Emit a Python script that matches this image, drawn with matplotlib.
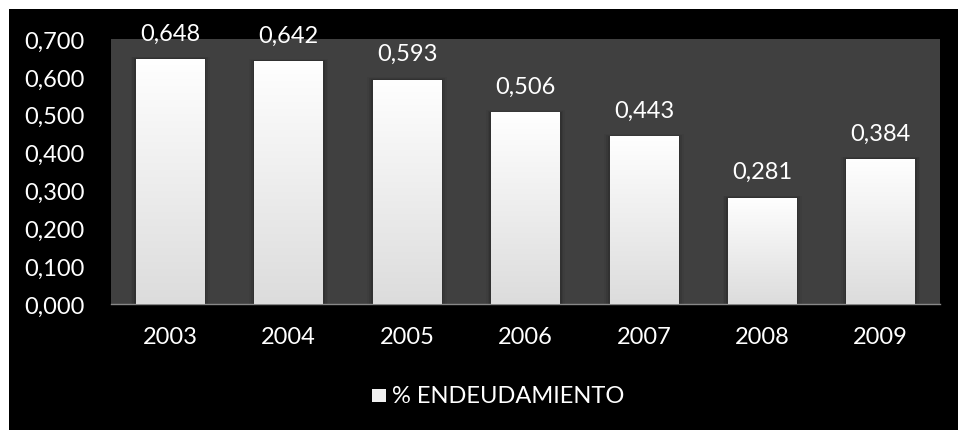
import matplotlib
matplotlib.use("Agg")
import matplotlib.pyplot as plt
import numpy as np
from matplotlib.patches import Rectangle
from matplotlib.ticker import FuncFormatter

years = ["2003", "2004", "2005", "2006", "2007", "2008", "2009"]
values = [0.648, 0.642, 0.593, 0.506, 0.443, 0.281, 0.384]
series_name = "% ENDEUDAMIENTO"
yticks = [0.0, 0.1, 0.2, 0.3, 0.4, 0.5, 0.6, 0.7]

plt.rcParams['font.family'] = ['Lato', 'DejaVu Sans']
FS = 17

W, H = 958, 431
fig = plt.figure(figsize=(W/100, H/100), dpi=100)
fig.patch.set_facecolor('white')
# black chart background
fig.add_artist(Rectangle((9/W, 0), 1 - 9/W, 1 - 10/H, transform=fig.transFigure,
                         facecolor='black', edgecolor='none', zorder=0))

ax = fig.add_axes([111/W, 1 - 305/H, (940-111)/W, (305-40)/H])
ax.set_facecolor('#404040')
x = np.arange(len(years))
bars = ax.bar(x, values, width=0.58, color='white', zorder=3)

grad = np.linspace(1, 0, 256).reshape(-1, 1)
cmap = matplotlib.colors.LinearSegmentedColormap.from_list('g', ['#dcdcdc', '#ffffff'])
for b in bars:
    bx, by, bw, bh = b.get_x(), b.get_y(), b.get_width(), b.get_height()
    # subtle shadow
    for i, a in enumerate([0.10, 0.07, 0.04]):
        d = 0.015 * (i + 1)
        ax.add_patch(Rectangle((bx - d, by), bw + 2*d, bh + d*0.12, facecolor='black',
                               alpha=a, edgecolor='none', zorder=2))
    im = ax.imshow(grad, extent=[bx, bx + bw, by, by + bh], aspect='auto',
                   cmap=cmap, vmin=0, vmax=1, zorder=4, interpolation='bicubic')
    im.set_clip_path(b)

for xi, v in zip(x, values):
    ax.annotate(f"{v:.3f}".replace('.', ','), (xi, v), xytext=(0, 11), textcoords='offset points',
                ha='center', va='bottom', color='white', fontsize=FS)

ax.set_xlim(-0.5, len(years) - 0.5)
ax.set_ylim(0, 0.7)
ax.set_xticks(x)
ax.set_xticklabels(years)
ax.set_yticks(yticks)
ax.yaxis.set_major_formatter(FuncFormatter(lambda v, p: f"{v:.3f}".replace('.', ',')))
ax.tick_params(axis='both', colors='white', labelcolor='white', labelsize=FS, length=0)
ax.tick_params(axis='x', pad=16)
ax.tick_params(axis='y', pad=19)
for s in ['top', 'right', 'left']:
    ax.spines[s].set_visible(False)
ax.spines['bottom'].set_color('#888888')
ax.spines['bottom'].set_linewidth(1.0)
ax.set_xlim(-0.5, len(years) - 0.5)

# legend
fig.add_artist(Rectangle((372/W, 1 - 403/H), 14/W, 13/H, transform=fig.transFigure,
                         facecolor='#f0f0f0', edgecolor='none'))
fig.text(392/W, 1 - 397/H, series_name, color='white', fontsize=FS, va='center', ha='left')

fig.savefig('out.png', dpi=100, facecolor=fig.get_facecolor())
